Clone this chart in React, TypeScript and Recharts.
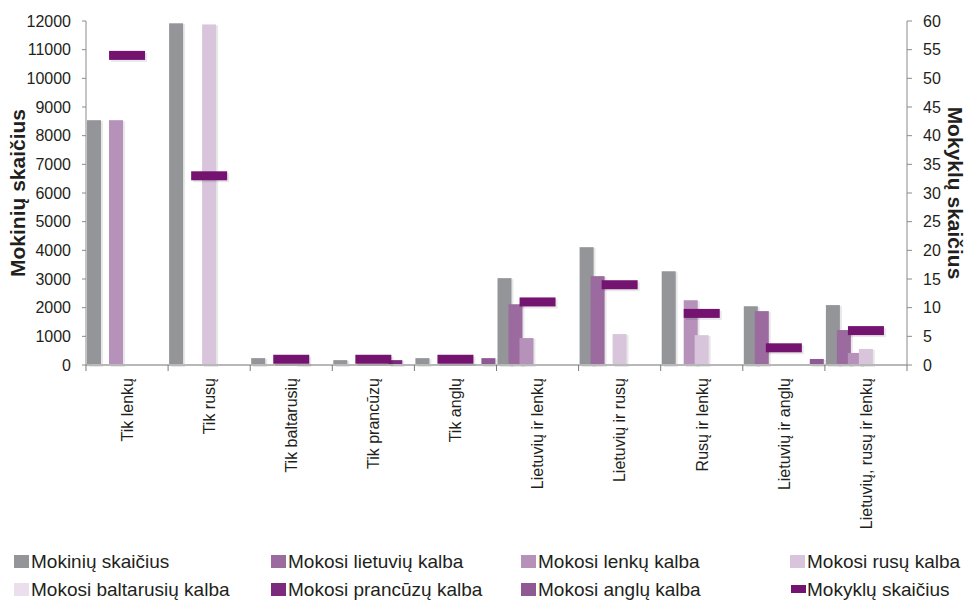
import { Bar, ComposedChart, Line, XAxis, YAxis } from "recharts";

const categories = [
  "Tik lenkų",
  "Tik rusų",
  "Tik baltarusių",
  "Tik prancūzų",
  "Tik anglų",
  "Lietuvių ir lenkų",
  "Lietuvių ir rusų",
  "Rusų ir lenkų",
  "Lietuvių ir anglų",
  "Lietuvių, rusų ir lenkų",
];

const mokiniai = [8540, 11920, 240, 170, 240, 3030, 4110, 3270, 2050, 2090];
const lietuviu = [null, null, null, null, null, 2120, 3100, null, 1880, 1220];
const lenku = [8540, null, null, null, null, 940, null, 2260, null, 420];
const rusu = [null, 11880, null, null, null, null, 1080, 1040, null, 560];
const baltarusiu = [null, null, 40, null, null, null, null, null, null, null];
const prancuzu = [null, null, null, 170, null, null, null, null, null, null];
const anglu = [null, null, null, null, 240, null, null, null, 210, null];
const mokyklos = [54, 33, 1, 1, 1, 11, 14, 9, 3, 6];

const leftTicks = [0, 1000, 2000, 3000, 4000, 5000, 6000, 7000, 8000, 9000, 10000, 11000, 12000];
const rightTicks = [0, 5, 10, 15, 20, 25, 30, 35, 40, 45, 50, 55, 60];

const data = categories.map((name, i) => ({
  name,
  mokiniai: mokiniai[i],
  lietuviu: lietuviu[i],
  lenku: lenku[i],
  rusu: rusu[i],
  baltarusiu: baltarusiu[i],
  prancuzu: prancuzu[i],
  anglu: anglu[i],
  mokyklos: mokyklos[i],
}));

const W = 965;
const H = 600;
const LEFT_W = 86;
const RIGHT_W = 58;
const TOP = 21;
const XAXIS_H = 235;
const AXIS_Y = H - XAXIS_H;
const BAND = (W - LEFT_W - RIGHT_W) / categories.length;
const FONT = "'Liberation Sans', Arial, sans-serif";
const TEXT = "#231f20";

const series = [
  { key: "mokiniai", name: "Mokinių skaičius", color: "#939598" },
  { key: "lietuviu", name: "Mokosi lietuvių kalba", color: "#9b6b9f" },
  { key: "lenku", name: "Mokosi lenkų kalba", color: "#b692bb" },
  { key: "rusu", name: "Mokosi rusų kalba", color: "#d8c5db" },
  { key: "baltarusiu", name: "Mokosi baltarusių kalba", color: "#ebdfed" },
  { key: "prancuzu", name: "Mokosi prancūzų kalba", color: "#7c2a7e" },
  { key: "anglu", name: "Mokosi anglų kalba", color: "#8f5a93" },
];
const MARKER = "#751370";

// bars get a faint offset shadow, like the Excel original
const ShadowBar = (props: any) => {
  const { x, y, width, height, fill } = props;
  if (!height || height <= 0) return null;
  return (
    <g>
      <rect x={x + 2} y={y + 1} width={width} height={height + 1} fill="#000" fillOpacity={0.09} />
      <rect x={x} y={y} width={width} height={height} fill={fill} />
    </g>
  );
};

const MarkerDot = (props: any) => {
  const { cx, cy, index } = props;
  if (cx == null || cy == null) return null;
  return (
    <g key={`m-${index}`}>
      <rect x={cx - 18 + 2} y={cy - 4.5 + 2} width={36} height={9} fill="#000" fillOpacity={0.09} />
      <rect x={cx - 18} y={cy - 4.5} width={36} height={9} fill={MARKER} />
    </g>
  );
};

const CategoryTick = (props: any) => {
  const { x, payload, index } = props;
  const ty = AXIS_Y + 13;
  return (
    <g>
      <line x1={x - BAND / 2} x2={x - BAND / 2} y1={AXIS_Y} y2={AXIS_Y + 6} stroke="#7a7a7a" strokeWidth={1} />
      {index === categories.length - 1 && (
        <line x1={x + BAND / 2} x2={x + BAND / 2} y1={AXIS_Y} y2={AXIS_Y + 6} stroke="#7a7a7a" strokeWidth={1} />
      )}
      <text
        x={x}
        y={ty}
        dy="0.36em"
        transform={`rotate(-90, ${x}, ${ty})`}
        textAnchor="end"
        fontSize={16}
        fontFamily={FONT}
        fill={TEXT}
      >
        {payload.value}
      </text>
    </g>
  );
};

const legendItems = [
  ...series.map((s) => ({ ...s, line: false })),
  { key: "mokyklos", name: "Mokyklų skaičius", color: MARKER, line: true },
];
const legendCols = [14, 271, 521, 790];
const legendRows = [561, 589];

export default function App() {
  return (
    <div style={{ position: "absolute", left: 0, top: 0, width: W, height: H, fontFamily: FONT, background: "#fff" }}>
      <ComposedChart
        width={W}
        height={H}
        data={data}
        margin={{ top: TOP, right: 0, bottom: 0, left: 0 }}
        barCategoryGap={0}
        barGap={-3}
        barSize={14}
      >
        <XAxis
          dataKey="name"
          height={XAXIS_H}
          interval={0}
          tick={<CategoryTick />}
          tickLine={false}
          axisLine={{ stroke: "#b8b8b8", strokeWidth: 2 }}
        />
        <YAxis
          yAxisId="left"
          width={LEFT_W}
          domain={[0, 12000]}
          ticks={leftTicks}
          interval={0}
          tickSize={4}
          tickMargin={11}
          axisLine={{ stroke: "#8a8a8a" }}
          tickLine={{ stroke: "#8a8a8a" }}
          tick={{ fontSize: 16, fill: TEXT, fontFamily: FONT }}
        />
        <YAxis
          yAxisId="right"
          orientation="right"
          width={RIGHT_W}
          domain={[0, 60]}
          ticks={rightTicks}
          interval={0}
          tickSize={5}
          tickMargin={11}
          axisLine={{ stroke: "#8a8a8a" }}
          tickLine={{ stroke: "#8a8a8a" }}
          tick={{ fontSize: 16, fill: TEXT, fontFamily: FONT, textAnchor: "start" }}
        />
        {series.map((s) => (
          <Bar
            key={s.key}
            yAxisId="left"
            dataKey={s.key}
            name={s.name}
            fill={s.color}
            shape={<ShadowBar />}
            isAnimationActive={false}
          />
        ))}
        <Line
          yAxisId="right"
          dataKey="mokyklos"
          name="Mokyklų skaičius"
          stroke="none"
          dot={MarkerDot}
          activeDot={false}
          isAnimationActive={false}
        />
      </ComposedChart>

      <svg width={W} height={H} style={{ position: "absolute", left: 0, top: 0, pointerEvents: "none" }}>
        <text
          x={17}
          y={TOP + (AXIS_Y - TOP) / 2}
          transform={`rotate(-90, 17, ${TOP + (AXIS_Y - TOP) / 2})`}
          textAnchor="middle"
          dominantBaseline="central"
          fontSize={21}
          fontWeight="bold"
          fontFamily={FONT}
          fill={TEXT}
        >
          Mokinių skaičius
        </text>
        <text
          x={955}
          y={TOP + (AXIS_Y - TOP) / 2}
          transform={`rotate(90, 955, ${TOP + (AXIS_Y - TOP) / 2})`}
          textAnchor="middle"
          dominantBaseline="central"
          fontSize={21}
          fontWeight="bold"
          fontFamily={FONT}
          fill={TEXT}
        >
          Mokyklų skaičius
        </text>
        {legendItems.map((item, i) => {
          const lx = legendCols[i % 4];
          const ly = legendRows[Math.floor(i / 4)];
          return (
            <g key={item.key}>
              {item.line ? (
                <rect x={lx + 1} y={ly - 4} width={15} height={8} fill={item.color} />
              ) : (
                <rect x={lx} y={ly - 6} width={15} height={13} fill={item.color} />
              )}
              <text x={lx + 17} y={ly} dominantBaseline="central" fontSize={19} fontFamily={FONT} fill={TEXT}>
                {item.name}
              </text>
            </g>
          );
        })}
      </svg>
    </div>
  );
}
